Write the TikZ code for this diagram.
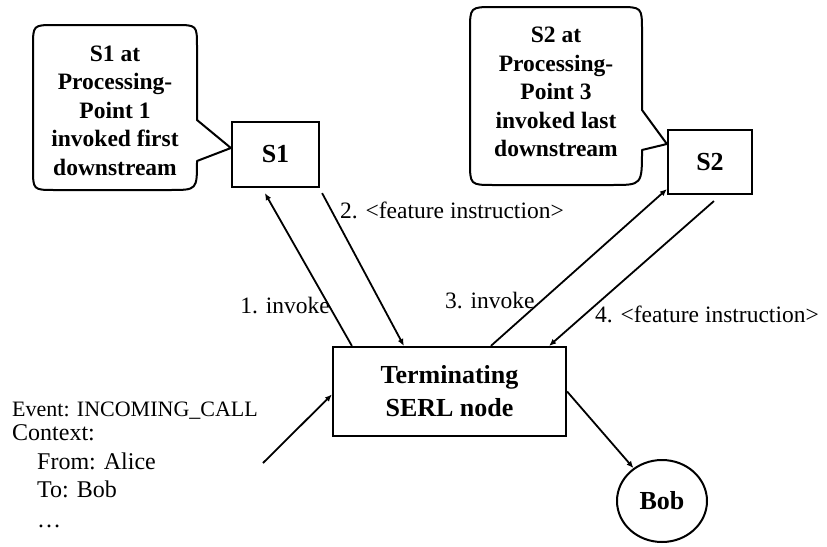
\documentclass[tikz,border=0pt]{standalone}
\usepackage{fontspec}
\setmainfont{Liberation Serif}
\usetikzlibrary{arrows.meta,shapes.geometric}

\tikzset{
  box/.style={draw, line width=2.2pt, inner sep=0pt, align=center,
    font=\fontsize{26}{33}\selectfont\bfseries},
  lbl/.style={inner sep=0pt, font=\fontsize{23.5}{28}\selectfont},
  ctx/.style={inner sep=0pt, anchor=base west, font=\fontsize{24}{28}\selectfont},
  arr/.style={line width=1.8pt, -{Latex[length=7pt,width=6pt]}},
  bubble/.style={draw, line width=2pt, line join=round},
  bubbletext/.style={inner sep=0pt, align=center,
    font=\fontsize{23.5}{28.5}\selectfont\bfseries},
}

\begin{document}
\begin{tikzpicture}[x=1pt, y=-1pt]
\useasboundingbox (0,0) rectangle (827,546);
\fill[white] (0,0) rectangle (827,546);

% service boxes and the SERL node
\node[box, minimum width=87pt, minimum height=65pt] (s1) at (275.5,154.5) {S1};
\node[box, minimum width=84pt, minimum height=64pt] (s2) at (710,162) {S2};
\node[box, minimum width=233pt, minimum height=89pt] (term) at (449.5,391.5)
  {Terminating\\SERL node};
\node[draw, ellipse, line width=2pt, minimum width=90pt, minimum height=82pt,
  inner sep=0pt, font=\fontsize{26}{30}\selectfont\bfseries] (bob) at (662,501) {Bob};

% speech bubble for S1
\draw[bubble] (55,25) -- (175,25) .. controls (197,25) .. (197,47)
  -- (197,120) -- ([yshift=6.5pt]s1.west) -- (197,161)
  .. controls (197,190) .. (170,190) -- (55,190)
  .. controls (33,190) .. (33,168) -- (33,47)
  .. controls (33,25) .. (55,25) -- cycle;
\node[bubbletext] (b1) at (115,110.5)
  {S1 at\\Processing-\\Point 1\\invoked first\\downstream};

% speech bubble for S2
\draw[bubble] (494,7) -- (618,7) .. controls (642,7) .. (642,31)
  -- (642,110) -- ([yshift=18pt]s2.west) -- (642,150)
  .. controls (642,185) .. (612,185) -- (494,185)
  .. controls (470,185) .. (470,161) -- (470,31)
  .. controls (470,7) .. (494,7) -- cycle;
\node[bubbletext] (b2) at (556,92)
  {S2 at\\Processing-\\Point 3\\invoked last\\downstream};

% message flow
\draw[arr] ([xshift=20pt]term.north west) -- ([xshift=34pt,yshift=-5pt]s1.south west);
\draw[arr] ([xshift=2pt,yshift=-5pt]s1.south east) -- ([xshift=72pt]term.north west);
\draw[arr] ([xshift=159pt]term.north west) -- ([yshift=6pt]s2.south west);
\draw[arr] ([xshift=47pt,yshift=-6pt]s2.south west) -- ([xshift=-18pt]term.north east);
\coordinate (in) at (263,463);
\draw[arr] (in) -- ([yshift=-3pt]term.west);
\draw[arr] (term.east) -- (bob);

% message labels
\node[lbl, anchor=base east] (l1) at (330,313) {1. invoke};
\node[lbl, anchor=base west] (l2) at (340,218) {2. <feature instruction>};
\node[lbl, anchor=base west] (l3) at (445,308) {3. invoke};
\node[lbl, anchor=base west] (l4) at (595,322) {4. <feature instruction>};

% incoming event
\node[ctx, font=\fontsize{22}{26}\selectfont] (ev) at (12,416) {Event: INCOMING\_CALL};
\node[ctx] (cx) at (12,440) {Context:};
\node[ctx] (cf) at (37,469) {From: Alice};
\node[ctx] (ct) at (37,497) {To: Bob};
\node[ctx] (cd) at (37,527) {\ldots};
\end{tikzpicture}
\end{document}
